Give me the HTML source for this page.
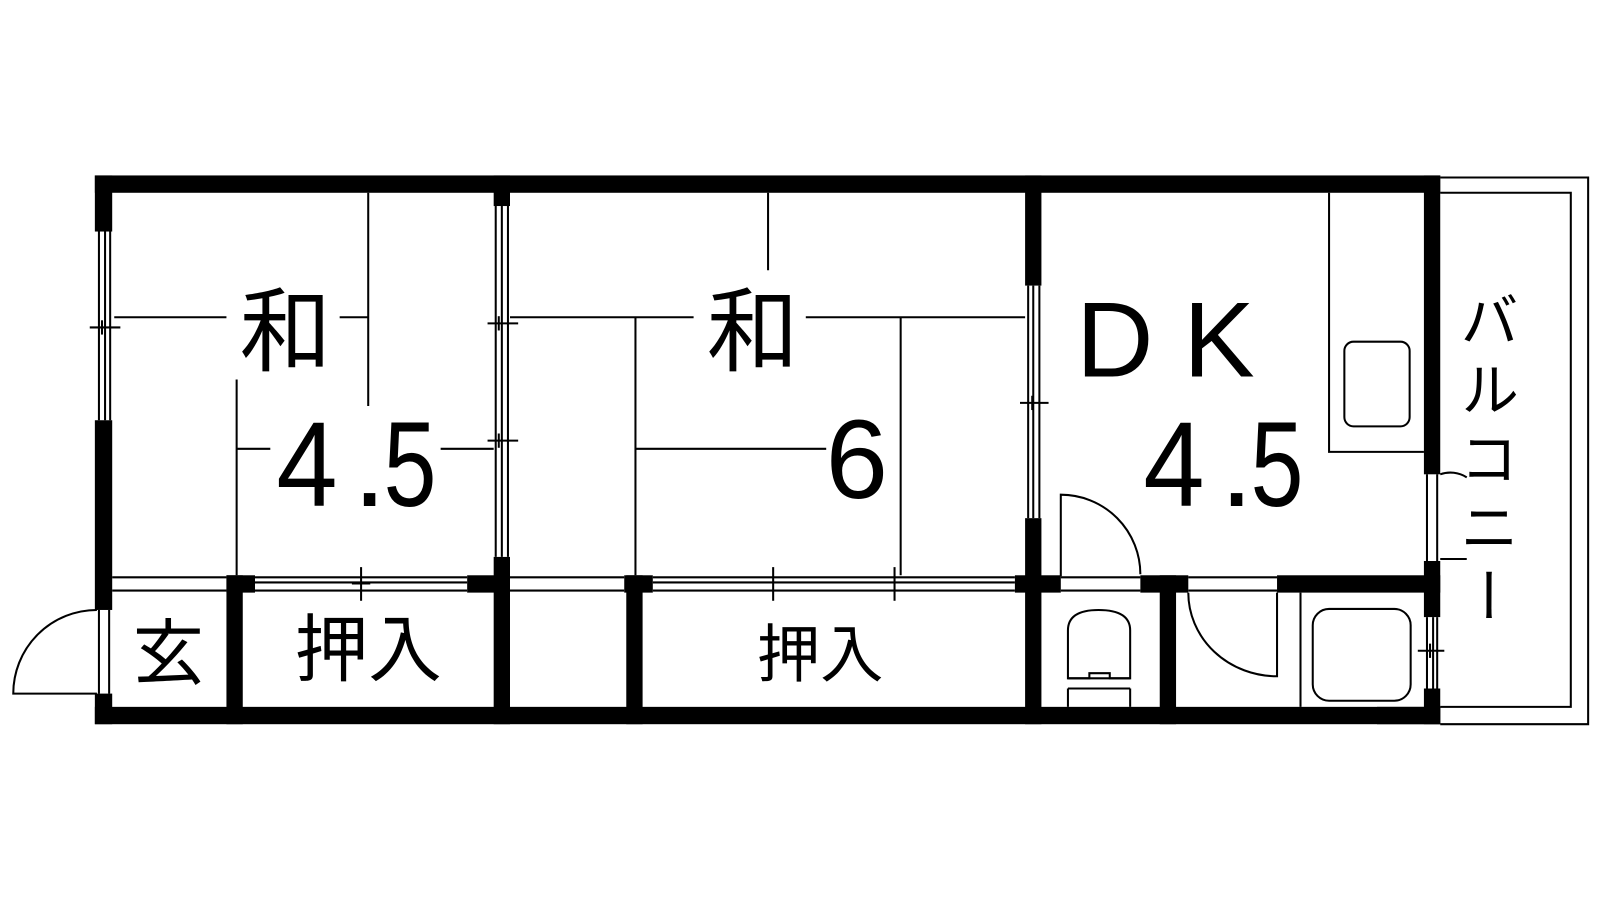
<!DOCTYPE html>
<html><head><meta charset="utf-8"><style>
html,body{margin:0;padding:0;background:#fff}
svg{display:block}
text{font-family:"Liberation Sans","Noto Sans CJK JP",sans-serif;fill:#000}
.bal{position:absolute;left:1454px;top:290px;writing-mode:vertical-rl;font-family:"Liberation Sans","Noto Sans CJK JP",sans-serif;font-size:59px;line-height:1;letter-spacing:10px;color:#000}
</style></head><body>
<div style="position:relative;width:1600px;height:900px;overflow:hidden">
<svg width="1600" height="900" viewBox="0 0 1600 900" xmlns="http://www.w3.org/2000/svg">
<g transform="scale(1.02)">
<g fill="#000">
<rect x="93" y="172" width="1319" height="17"/>
<rect x="93" y="693" width="1319" height="17"/>
<rect x="93" y="172" width="17" height="55"/>
<rect x="93" y="412" width="17" height="186"/>
<rect x="93" y="680" width="17" height="30"/>
<rect x="484" y="172" width="16" height="30"/>
<rect x="484" y="546" width="16" height="164"/>
<rect x="1005" y="172" width="16" height="108"/>
<rect x="1005" y="508" width="16" height="202"/>
<rect x="1396" y="172" width="16" height="293"/>
<rect x="1396" y="550" width="16" height="55"/>
<rect x="1396" y="675" width="16" height="35"/>
<rect x="222" y="564" width="28" height="17"/>
<rect x="458" y="564" width="42" height="17"/>
<rect x="612" y="564" width="28" height="17"/>
<rect x="995" y="564" width="45" height="17"/>
<rect x="1118" y="564" width="47" height="17"/>
<rect x="1252" y="564" width="160" height="17"/>
<rect x="222" y="564" width="16" height="146"/>
<rect x="614" y="564" width="16" height="146"/>
<rect x="1137" y="564" width="16" height="146"/>
<rect x="1350" y="693" width="62" height="17"/>
</g>
<g fill="none" stroke="#000" stroke-width="2">
<line x1="97" y1="227" x2="97" y2="412"/><line x1="103" y1="227" x2="103" y2="412"/><line x1="108" y1="227" x2="108" y2="412"/>
<line x1="88" y1="321" x2="118" y2="321"/><line x1="100" y1="314" x2="100" y2="328"/>
<line x1="486" y1="202" x2="486" y2="546"/><line x1="492" y1="202" x2="492" y2="546"/><line x1="498" y1="202" x2="498" y2="546"/>
<line x1="478" y1="317" x2="508" y2="317"/><line x1="478" y1="432" x2="508" y2="432"/>
<line x1="489" y1="310" x2="489" y2="324"/><line x1="489" y1="425" x2="489" y2="439"/>
<line x1="1008" y1="280" x2="1008" y2="508"/><line x1="1013" y1="280" x2="1013" y2="508"/><line x1="1019" y1="280" x2="1019" y2="508"/>
<line x1="1000" y1="395" x2="1028" y2="395"/><line x1="1012" y1="388" x2="1012" y2="402"/>
<line x1="110" y1="566" x2="222" y2="566"/><line x1="110" y1="579" x2="222" y2="579"/>
<line x1="250" y1="566" x2="458" y2="566"/><line x1="250" y1="571" x2="458" y2="571"/><line x1="250" y1="579" x2="458" y2="579"/>
<line x1="354" y1="556" x2="354" y2="589"/><line x1="345" y1="572" x2="363" y2="572"/>
<line x1="500" y1="566" x2="612" y2="566"/><line x1="500" y1="579" x2="612" y2="579"/>
<line x1="640" y1="566" x2="995" y2="566"/><line x1="640" y1="571" x2="995" y2="571"/><line x1="640" y1="579" x2="995" y2="579"/>
<line x1="758" y1="556" x2="758" y2="589"/><line x1="877" y1="556" x2="877" y2="589"/>
<line x1="1040" y1="566" x2="1118" y2="566"/><line x1="1040" y1="579" x2="1118" y2="579"/>
<line x1="1165" y1="566" x2="1252" y2="566"/><line x1="1165" y1="579" x2="1252" y2="579"/>
<line x1="361" y1="189" x2="361" y2="398"/>
<line x1="112" y1="311" x2="222" y2="311"/><line x1="333" y1="311" x2="361" y2="311"/>
<line x1="232" y1="372" x2="232" y2="564"/>
<line x1="232" y1="440" x2="265" y2="440"/><line x1="432" y1="440" x2="484" y2="440"/>
<line x1="753" y1="189" x2="753" y2="265"/>
<line x1="500" y1="311" x2="680" y2="311"/><line x1="790" y1="311" x2="1005" y2="311"/>
<line x1="623" y1="311" x2="623" y2="564"/><line x1="883" y1="311" x2="883" y2="564"/>
<line x1="623" y1="440" x2="810" y2="440"/>
<path d="M95 598 A82 82 0 0 0 13 680 L95 680"/>
<line x1="97" y1="598" x2="97" y2="680"/><line x1="107" y1="598" x2="107" y2="680"/>
<path d="M1040 565 L1040 485 A78 78 0 0 1 1118 563"/>
<path d="M1303 189 L1303 443 L1396 443"/>
<rect x="1318" y="335" width="64" height="83" rx="9"/>
<line x1="1399" y1="465" x2="1399" y2="550"/><line x1="1409" y1="465" x2="1409" y2="550"/>
<path d="M1412 465 A30 30 0 0 1 1438 468"/><line x1="1412" y1="548" x2="1438" y2="548"/>
<line x1="1399" y1="605" x2="1399" y2="675"/><line x1="1405" y1="605" x2="1405" y2="675"/><line x1="1409" y1="605" x2="1409" y2="675"/>
<line x1="1390" y1="638" x2="1416" y2="638"/><line x1="1402" y1="631" x2="1402" y2="645"/>
<path d="M1412 174 L1557 174 L1557 710 L1412 710"/>
<path d="M1412 189 L1540 189 L1540 693 L1412 693"/>
<path d="M1047 665 L1047 618 Q1047 598 1077 598 Q1108 598 1108 618 L1108 665 Z"/>
<path d="M1047 665 L1068 665 L1068 660 L1088 660 L1088 665 L1108 665"/>
<line x1="1047" y1="675" x2="1108" y2="675"/><line x1="1047" y1="675" x2="1047" y2="693"/><line x1="1108" y1="675" x2="1108" y2="693"/>
<path d="M1165 581 A87 82 0 0 0 1252 663 L1252 581"/>
<line x1="1275" y1="581" x2="1275" y2="693"/>
<rect x="1287" y="597" width="96" height="90" rx="16"/>
</g>
<text x="280" y="357" font-size="90" text-anchor="middle">和</text>
<text x="738" y="357" font-size="90" text-anchor="middle">和</text>
<g font-size="118">
<text x="271" y="496" textLength="60" lengthAdjust="spacingAndGlyphs">4</text><text x="346" y="496">.</text><text x="376" y="496" textLength="52" lengthAdjust="spacingAndGlyphs">5</text>
<text x="1121" y="496" textLength="60" lengthAdjust="spacingAndGlyphs">4</text><text x="1196" y="496">.</text><text x="1226" y="496" textLength="52" lengthAdjust="spacingAndGlyphs">5</text>
</g>
<text x="840" y="488" font-size="110" text-anchor="middle">6</text>
<text x="1055" y="369" font-size="105">D</text>
<text x="1160" y="369" font-size="105">K</text>
<text x="165" y="665" font-size="70" text-anchor="middle">玄</text>
<text x="361" y="662" font-size="72" text-anchor="middle">押入</text>
<text x="804" y="663" font-size="62" text-anchor="middle">押入</text>
</g>
</svg>
<div class="bal">バルコニー</div>
</div>
</body></html>
